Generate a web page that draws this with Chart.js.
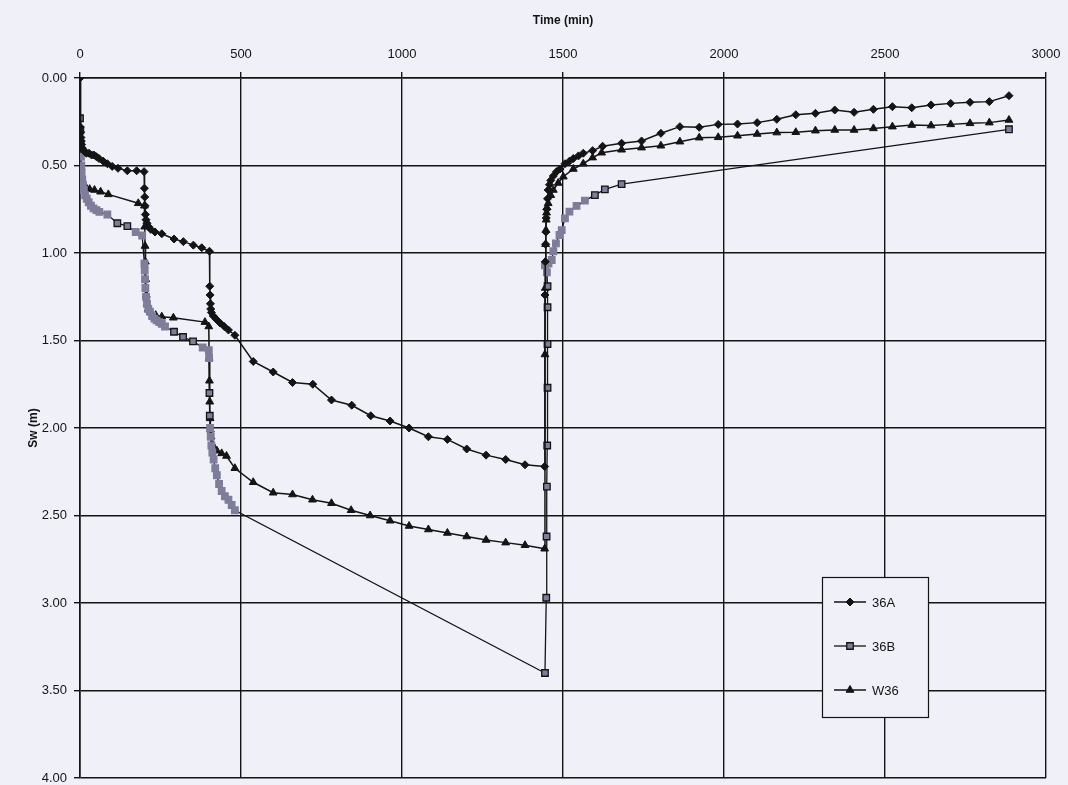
<!DOCTYPE html>
<html>
<head>
<meta charset="utf-8">
<title>Sw vs Time</title>
<script src="https://cdn.jsdelivr.net/npm/chart.js@4/dist/chart.umd.min.js"></script>
<style>
  html, body { margin: 0; padding: 0; background: #f0f0f9; }
  #wrap { width: 1068px; height: 785px; }
  canvas { display: block; }
</style>
</head>
<body>
<div id="wrap"><canvas id="chart" width="1068" height="785"></canvas></div>
<script>
// Series names
const seriesNames = ['36A', '36B', 'W36'];

// 36A: time (min) and Sw (m)
const time36A = [0,1,2,3,4,5,7,10,14,20,28,36,43,51,59,72,85,100,118,147,176,199,
  200,201,202,203,205,208,213,220,233,254,292,321,352,378,402,
  403,404,405,406,408,414,424,435,448,461,481,538,600,660,723,781,844,903,963,1022,1082,1141,1201,1261,1322,1382,1443,
  1444,1445,1446,1447,1448,1450,1452,1454,1458,1462,1470,1480,1491,1506,1520,1532,1548,1563,1592,1623,1682,
  1744,1804,1863,1923,1982,2042,2103,2164,2223,2284,2344,2404,2464,2523,2583,2643,2704,2764,2824,2885];
const sw36A = [0.00,0.28,0.31,0.34,0.36,0.38,0.40,0.41,0.42,0.43,0.43,0.44,0.44,0.45,0.46,0.475,0.49,0.505,0.516,0.53,0.53,0.535,
  0.63,0.68,0.73,0.78,0.81,0.83,0.85,0.865,0.88,0.89,0.92,0.935,0.955,0.97,0.99,
  1.19,1.24,1.29,1.32,1.34,1.36,1.38,1.40,1.42,1.44,1.47,1.62,1.68,1.74,1.75,1.84,1.87,1.93,1.96,2.00,2.05,2.065,2.12,2.155,2.18,2.21,2.22,
  1.24,1.05,0.95,0.88,0.80,0.75,0.69,0.64,0.61,0.585,0.56,0.535,0.52,0.49,0.475,0.46,0.445,0.43,0.415,0.39,0.373,
  0.36,0.316,0.278,0.282,0.265,0.263,0.255,0.236,0.21,0.202,0.183,0.196,0.179,0.164,0.17,0.154,0.145,0.139,0.135,0.101];

// 36B: time (min) and Sw (m)
const time36B = [0,1,2,3,4,5,7,9,12,16,21,27,34,42,51,60,85,116,147,173,193,
  200,201,202,203,205,208,212,217,224,231,238,246,254,264,292,320,351,381,400,
  401,402,403,404,406,408,411,415,420,425,432,440,450,461,471,481,
  1444,1448,1449,1450,1451,1452,1452,1452,1452,1450,1444,1455,1465,1470,1478,1489,1496,1506,1520,1542,1568,1599,1630,1682,2885];
const sw36B = [0.23,0.30,0.38,0.45,0.50,0.54,0.58,0.61,0.64,0.67,0.69,0.71,0.73,0.745,0.755,0.765,0.78,0.83,0.846,0.88,0.90,
  1.06,1.10,1.15,1.20,1.25,1.29,1.32,1.335,1.36,1.375,1.385,1.395,1.405,1.42,1.45,1.48,1.505,1.54,1.555,
  1.60,1.80,1.93,2.00,2.05,2.10,2.14,2.18,2.23,2.27,2.32,2.36,2.39,2.41,2.44,2.47,
  3.40,2.97,2.62,2.335,2.10,1.77,1.52,1.31,1.19,1.11,1.07,1.06,1.04,0.99,0.945,0.897,0.869,0.802,0.764,0.731,0.701,0.669,0.636,0.606,0.293];

// W36: time (min) and Sw (m)
const timeW36 = [0,1,2,3,5,8,12,20,30,45,64,88,181,200,
  201,202,203,204,206,208,212,220,235,254,290,388,400,
  401,402,403,404,405,407,410,415,425,440,455,481,538,600,660,722,781,842,901,963,1022,1082,1141,1201,1261,1322,1382,1443,
  1444,1445,1446,1447,1448,1449,1450,1454,1462,1470,1485,1501,1532,1563,1592,1620,1682,
  1744,1804,1863,1923,1982,2042,2103,2164,2223,2284,2344,2404,2464,2523,2583,2643,2704,2764,2824,2885];
const swW36 = [0.33,0.42,0.50,0.55,0.59,0.61,0.62,0.63,0.635,0.64,0.65,0.665,0.716,0.73,
  0.85,0.96,1.05,1.15,1.24,1.29,1.32,1.34,1.355,1.364,1.37,1.395,1.42,
  1.60,1.73,1.85,1.945,2.01,2.05,2.09,2.11,2.13,2.145,2.16,2.23,2.31,2.37,2.38,2.41,2.43,2.47,2.50,2.53,2.56,2.58,2.60,2.62,2.64,2.655,2.67,2.69,
  1.58,1.20,0.95,0.87,0.81,0.77,0.74,0.716,0.67,0.64,0.60,0.564,0.52,0.49,0.455,0.427,0.41,
  0.398,0.387,0.364,0.341,0.339,0.33,0.32,0.312,0.31,0.301,0.297,0.297,0.288,0.278,0.269,0.272,0.265,0.259,0.255,0.24];

// Axis ticks
const timeTicks = [0, 500, 1000, 1500, 2000, 2500, 3000];
const swTicks = [0, 0.5, 1, 1.5, 2, 2.5, 3, 3.5, 4];

const FONT = "'Liberation Sans', Arial, Helvetica, sans-serif";
const INK = '#141414';
const GRAY_FILL = '#7e7e9a';

function toPoints(xs, ys) {
  return xs.map((x, i) => ({ x: x, y: ys[i] }));
}

// Squares that crowd together read as a grey band; isolated ones keep a dark outline.
function crowded(ctx) {
  const chart = ctx.chart;
  const data = ctx.dataset.data;
  const i = ctx.dataIndex;
  const xs = chart.scales.x, ys = chart.scales.y;
  if (!xs || !ys || !data[i]) return false;
  const px = xs.getPixelForValue(data[i].x), py = ys.getPixelForValue(data[i].y);
  for (const j of [i - 1, i + 1]) {
    if (j < 0 || j >= data.length) continue;
    const qx = xs.getPixelForValue(data[j].x), qy = ys.getPixelForValue(data[j].y);
    if (Math.hypot(px - qx, py - qy) < 10) return true;
  }
  return false;
}

const datasets = [
  {
    label: seriesNames[0],
    data: toPoints(time36A, sw36A),
    showLine: true,
    borderColor: INK,
    borderWidth: 1.5,
    pointStyle: 'rectRot',
    pointRadius: 4,
    pointBackgroundColor: INK,
    pointBorderColor: INK,
    pointBorderWidth: 1,
    tension: 0
  },
  {
    label: seriesNames[1],
    data: toPoints(time36B, sw36B),
    showLine: true,
    borderColor: INK,
    borderWidth: 1.3,
    pointStyle: 'rect',
    pointRadius: 4.6,
    pointBackgroundColor: GRAY_FILL,
    pointBorderColor: (ctx) => crowded(ctx) ? GRAY_FILL : INK,
    pointBorderWidth: 1.3,
    tension: 0
  },
  {
    label: seriesNames[2],
    data: toPoints(timeW36, swW36),
    showLine: true,
    borderColor: INK,
    borderWidth: 1.5,
    pointStyle: 'triangle',
    pointRadius: 4.5,
    pointBackgroundColor: INK,
    pointBorderColor: INK,
    pointBorderWidth: 1,
    tension: 0
  }
];

// Legend box drawn inside the plot area, lower right.
const boxLegend = {
  id: 'boxLegend',
  afterDatasetsDraw(chart) {
    const { ctx, chartArea: a } = chart;
    const w = a.right - a.left, h = a.bottom - a.top;
    const left = Math.round(a.left + w * 0.768);
    const top = Math.round(a.top + h * 0.713);
    const bw = 106, bh = 140, rowGap = 44;
    ctx.save();
    ctx.fillStyle = '#f0f0f9';
    ctx.fillRect(left, top, bw, bh);
    ctx.strokeStyle = INK;
    ctx.lineWidth = 1.2;
    ctx.strokeRect(left + 0.5, top + 0.5, bw, bh);
    chart.data.datasets.forEach((ds, i) => {
      const y = top + 25 + i * rowGap;
      const x0 = left + 12, x1 = left + 44;
      ctx.strokeStyle = ds.borderColor;
      ctx.lineWidth = ds.borderWidth;
      ctx.beginPath();
      ctx.moveTo(x0, y);
      ctx.lineTo(x1, y);
      ctx.stroke();
      const borderCol = typeof ds.pointBorderColor === 'function' ? INK : ds.pointBorderColor;
      ctx.fillStyle = ds.pointBackgroundColor;
      ctx.strokeStyle = borderCol;
      ctx.lineWidth = ds.pointBorderWidth;
      Chart.helpers.drawPoint(ctx, {
        pointStyle: ds.pointStyle,
        radius: ds.pointRadius,
        rotation: 0,
        borderWidth: ds.pointBorderWidth
      }, (x0 + x1) / 2, y);
      ctx.fillStyle = INK;
      ctx.font = '13px ' + FONT;
      ctx.textAlign = 'left';
      ctx.textBaseline = 'middle';
      ctx.fillText(ds.label, x1 + 6, y + 1);
    });
    ctx.restore();
  }
};

new Chart(document.getElementById('chart'), {
  type: 'scatter',
  data: { datasets: datasets },
  options: {
    responsive: false,
    animation: false,
    layout: { padding: { left: 0, right: 22, top: 0, bottom: 7 } },
    plugins: {
      legend: { display: false },
      tooltip: { enabled: false }
    },
    scales: {
      x: {
        type: 'linear',
        position: 'top',
        min: 0,
        max: 3000,
        afterBuildTicks: (s) => { s.ticks = timeTicks.map(v => ({ value: v })); },
        afterFit: (s) => { s.height = 78; s.paddingLeft = 0; s.paddingRight = 0; },
        ticks: {
          color: INK,
          padding: 10,
          maxRotation: 0,
          font: { family: FONT, size: 13 },
          callback: (v) => String(v)
        },
        grid: { color: INK, lineWidth: 1.4, tickLength: 6, tickColor: INK, drawTicks: true },
        border: { color: INK, width: 1.6 },
        title: {
          display: true,
          text: 'Time (min)',
          color: INK,
          font: { family: FONT, size: 12, weight: 'bold' },
          padding: { top: 13, bottom: 0 }
        }
      },
      y: {
        type: 'linear',
        reverse: true,
        min: 0,
        max: 4,
        afterBuildTicks: (s) => { s.ticks = swTicks.map(v => ({ value: v })); },
        afterFit: (s) => { s.width = 80; s.paddingTop = 0; s.paddingBottom = 0; },
        ticks: {
          color: INK,
          padding: 7,
          font: { family: FONT, size: 13 },
          callback: (v) => Number(v).toFixed(2)
        },
        grid: { color: INK, lineWidth: 1.4, tickLength: 6, tickColor: INK, drawTicks: true },
        border: { color: INK, width: 1.6 },
        title: {
          display: true,
          text: 'Sw (m)',
          color: INK,
          font: { family: FONT, size: 12, weight: 'bold' },
          padding: { top: 26, bottom: 0 }
        }
      }
    }
  },
  plugins: [boxLegend]
});
</script>
</body>
</html>
